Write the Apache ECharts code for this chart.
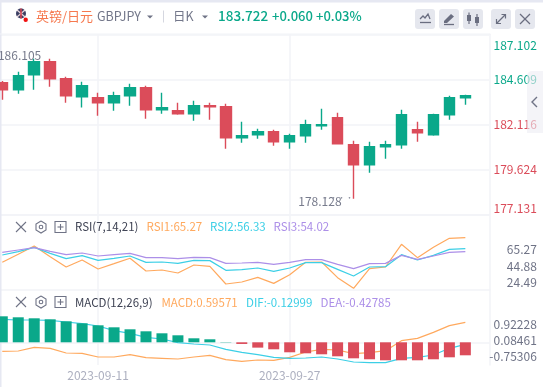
<!DOCTYPE html>
<html><head><meta charset="utf-8">
<style>html,body{margin:0;padding:0;background:#fff;overflow:hidden}#c{width:543px;height:387px}</style>
<script src="https://cdn.jsdelivr.net/npm/echarts@6/dist/echarts.min.js"></script>
</head><body><div id="c"></div>
<script>
const dates=['2023-09-01','2023-09-04','2023-09-05','2023-09-06','2023-09-07','2023-09-08','2023-09-11','2023-09-12','2023-09-13','2023-09-14','2023-09-15','2023-09-18','2023-09-19','2023-09-20','2023-09-21','2023-09-22','2023-09-25','2023-09-26','2023-09-27','2023-09-28','2023-09-29','2023-10-02','2023-10-03','2023-10-04','2023-10-05','2023-10-06','2023-10-09','2023-10-10','2023-10-11','2023-10-12',''];
// open, close, low, high
const candles=[
[184.416,184.028,183.474,184.51],
[184.028,184.803,183.806,185.025],
[184.859,185.579,184.028,185.745],
[185.579,184.637,184.194,185.745],
[184.637,183.695,183.308,184.748],
[183.64,184.25,183.047,184.471],
[183.585,183.308,182.587,183.862],
[183.308,183.695,182.864,183.917],
[183.695,184.139,183.141,184.36],
[184.139,182.92,182.421,184.25],
[182.92,183.03,182.698,183.862],
[182.864,182.698,182.643,183.308],
[182.698,183.141,182.31,183.418],
[183.141,183.086,182.366,183.308],
[183.086,181.369,180.759,183.252],
[181.369,181.479,181.091,182.255],
[181.535,181.701,181.313,181.867],
[181.701,181.147,180.925,181.812],
[181.147,181.479,180.759,181.59],
[181.479,182.089,181.091,182.366],
[182.033,182.089,181.812,182.975],
[182.477,181.036,181.036,182.753],
[180.981,179.873,177.99,181.202],
[179.873,180.87,179.43,181.147],
[180.87,180.981,180.205,181.202],
[180.981,182.643,180.759,182.92],
[181.812,181.646,181.147,182.255],
[181.535,182.643,181.479,182.698],
[182.643,183.585,182.366,183.695],
[183.585,183.695,183.197,183.751]];
const rsi1=[49.48,59.48,69.9,56.56,43.64,52.4,41.14,47.8,54.5,38.65,39.9,36.15,46.15,44.48,22.4,24.9,30.7,23.2,34.06,49.48,49.9,30.3,16.98,41.56,43.64,72,55.3,68.2,79.5,80.3];
const rsi2=[58.65,62.8,68.2,60.7,54.06,57.8,52,54.5,57.4,49.48,49.9,48.2,52,51.6,39.5,40.3,42.4,38.2,42.4,49.06,49.06,40.7,32.4,43.64,44.06,59.06,52.4,58.2,65.7,66.56];
const rsi3=[62,64.9,67.8,63.2,59.06,61.15,57.4,59.06,60.7,55.3,55.3,54.06,55.7,55.3,48.2,48.65,49.48,47,49.48,52.8,52.8,47,41.56,47.8,48.2,58.2,53.2,57.4,62,62.8];
const macdBars=[1.34,1.289,1.237,1.185,1.082,.979,.876,.773,.67,.567,.464,.361,.206,.155,.017,-.086,-.275,-.361,-.515,-.567,-.618,-.722,-.825,-.876,-.928,-.928,-.928,-.876,-.773,-.67];
const macdCyan=[1.184,1.15,1.15,1.133,1.047,.961,.84,.6,.463,.256,.17,-.018,-.087,-.139,-.362,-.517,-.637,-.774,-.826,-.809,-.757,-.86,-1.015,-1.049,-1.049,-.826,-.774,-.654,-.31,-.104];
const macdOrange=[-.465,-.448,-.259,-.31,-.551,-.568,-.757,-.757,-.637,-.792,-.826,-.86,-.757,-.671,-.895,-.981,-.912,-.929,-.774,-.499,-.362,-.396,-.585,-.534,-.431,.085,.205,.514,.858,1.03];
const priceTicks=[177.131,179.624,182.116,184.609,187.102];
const rsiTicks=[24.49,44.88,65.27];
const macdTicks=[-0.75306,0.08461,0.92228];
const lastPrice=183.722, highLabel='186.105', lowLabel='178.128';

const FONT='"Noto Sans CJK SC","Noto Sans",sans-serif';
const UP='#0aa88a',DOWN='#db4c5a',GRID='#f2f3f7',ORANGE='#ffa95e',CYAN='#3ccfe6',PURPLE='#ac8fe8';
const GL=-5.7,GW=495;
const hl=(i)=>i===6||i===18;
function xAxis(idx,showLabel){return{type:'category',gridIndex:idx,data:dates,boundaryGap:true,
  axisLine:{show:true,lineStyle:{color:GRID,width:1.5}},axisTick:{show:false},
  axisLabel:{show:showLabel,interval:(i)=>hl(i),color:'#adb0c0',fontSize:12,fontFamily:FONT,margin:4,hideOverlap:false},
  splitLine:{show:true,alignWithLabel:true,interval:(i)=>hl(i),lineStyle:{color:GRID,width:1.5}}};}
function yAxis(idx,min,max,ticks,dec,color,extra){return Object.assign({type:'value',gridIndex:idx,position:'right',min,max,scale:true,
  axisLine:{show:true,onZero:false,lineStyle:{color:GRID,width:1.5}},axisTick:{show:false,customValues:ticks},
  axisLabel:Object.assign({customValues:ticks,align:'right',margin:47.5,color,fontSize:12,fontFamily:FONT,formatter:(v)=>v.toFixed(dec)},(extra||{}).label||{}),
  splitLine:(extra||{}).split||{show:false}});}
function text(x,y,s,fill,size,weight,align){return{type:'text',x,y,silent:true,z:50,style:{text:s,fill,font:(weight||'normal')+' '+size+'px '+FONT,align:align||'left',verticalAlign:'middle'}};}
function button(x){return{type:'rect',silent:true,z:50,shape:{x,y:9,width:20,height:20,r:3},style:{fill:'#e5e7ee'}};}
function line(points,color,w){return{type:'polyline',silent:true,z:51,shape:{points},style:{stroke:color,lineWidth:w||1.4,fill:null}};}
function panelIcons(y){const c='#6f7386';return [
  line([[16,y-5],[26,y+5]],c,1.1),line([[26,y-5],[16,y+5]],c,1.1),
  line([[41,y-6],[46,y-3],[46,y+3],[41,y+6],[36,y+3],[36,y-3],[41,y-6]],c,1.1),
  {type:'circle',silent:true,z:51,shape:{cx:41,cy:y,r:1.8},style:{stroke:c,fill:null,lineWidth:1.1}},
  {type:'rect',silent:true,z:51,shape:{x:55,y:y-5.5,width:11,height:11},style:{stroke:c,fill:null,lineWidth:1.1}},
  line([[60.5,y-3],[60.5,y+3]],c,1.1),line([[57.5,y],[63.5,y]],c,1.1)];}
const graphics=[
  {type:'rect',silent:true,z:1,shape:{x:0,y:0,width:1.5,height:387},style:{fill:'#e6e8f2'}},
  {type:'rect',silent:true,z:1,shape:{x:0,y:0,width:543,height:2.5},style:{fill:'#e6e8f2'}},
  {type:'rect',silent:true,z:1,shape:{x:0,y:33.5,width:490,height:1},style:{fill:GRID}},
  {type:'circle',silent:true,z:50,shape:{cx:21,cy:13.5,r:5},style:{fill:'#3b3f63'}},
  line([[17,10],[25,17]],'#e8d6dc',1.3),line([[25,10],[17,17]],'#e8d6dc',1.3),
  line([[21,8.5],[21,18.5]],'#d8404e',1.5),
  {type:'circle',silent:true,z:52,shape:{cx:25.7,cy:19.7,r:2.2},style:{fill:'#f01010'}},
  text(36,16.5,'英镑/日元','#f6794f',13),
  text(97,16,'GBPJPY','#73778a',12.5),
  {type:'polygon',silent:true,z:50,shape:{points:[[147,15.5],[153,15.5],[150,18.5]]},style:{fill:'#6f7386'}},
  {type:'rect',silent:true,z:50,shape:{x:163,y:10.5,width:1,height:12},style:{fill:'#d5d7e0'}},
  text(173,16,'日K','#73778a',12.5),
  {type:'polygon',silent:true,z:50,shape:{points:[[202,15.5],[208,15.5],[205,18.5]]},style:{fill:'#6f7386'}},
  text(218,16,String(lastPrice),UP,13.5,'500'),
  text(272,16,'+0.060',UP,13,'500'),
  text(316,16,'+0.03%',UP,13,'500'),
  button(415),button(439),button(463),button(491),button(515),
  line([[420,19],[423,16],[425,18],[428,14],[430,19]],'#6a6e80',1.3),line([[420,22.5],[431,22.5]],'#6a6e80',1.3),
  {type:'polygon',silent:true,z:51,shape:{points:[[444,21],[451,14],[454,16.5],[447,23],[444,23]]},style:{fill:'#6a6e80'}},
  line([[444,24.5],[454,24.5]],'#6a6e80',1.3),
  line([[469,12.5],[469,24]],'#6a6e80',1.2),line([[477,14],[477,26]],'#6a6e80',1.2),
  {type:'rect',silent:true,z:51,shape:{x:467,y:15,width:4,height:6},style:{fill:'#6a6e80'}},
  {type:'rect',silent:true,z:51,shape:{x:475,y:17,width:4,height:6},style:{fill:'#6a6e80'}},
  line([[497,23],[505,15]],'#6a6e80',1.2),line([[501.5,14.5],[505.5,14.5],[505.5,18.5]],'#6a6e80',1.2),line([[496.5,19],[496.5,23.5],[501,23.5]],'#6a6e80',1.2),
  line([[520,14],[530,24]],'#6a6e80',1.2),line([[530,14],[520,24]],'#6a6e80',1.2),
  {type:'rect',silent:true,z:60,shape:{x:527,y:71,width:16,height:62,r:[5,0,0,0]},style:{fill:'#ecedf3',opacity:.6}},
  Object.assign(line([[537,97],[532,102],[537,107]],'#6f7386',1.4),{z:61}),
  ...panelIcons(227),
  text(75,227,'RSI(7,14,21)','#3f4354',11.5),
  text(146.5,227,'RSI1:65.27',ORANGE,11.5),
  text(210,227,'RSI2:56.33',CYAN,11.5),
  text(273.5,227,'RSI3:54.02',PURPLE,11.5),
  ...panelIcons(302),
  text(75,302.5,'MACD(12,26,9)','#3f4354',11.5),
  text(161.5,302.5,'MACD:0.59571',ORANGE,11.5),
  text(246,302.5,'DIF:-0.12999',CYAN,11.5),
  text(320.5,302.5,'DEA:-0.42785',PURPLE,11.5)
];
const lineSeries=(name,x,y,data,color,w)=>({name,type:'line',xAxisIndex:x,yAxisIndex:y,data,symbol:'none',lineStyle:{color,width:w||1.2},z:2,animation:false});
const markLabel={show:true,color:'#777b8c',fontSize:12,fontFamily:FONT};
const option={animation:false,backgroundColor:'#fff',
 grid:[{left:GL,width:GW,top:34.3,height:180,outerBoundsMode:'none'},{left:GL,width:GW,top:215,height:75,outerBoundsMode:'none'},{left:GL,width:GW,top:290,height:75,outerBoundsMode:'none'}],
 xAxis:[xAxis(0,false),xAxis(1,false),xAxis(2,true)],
 yAxis:[
  yAxis(0,177.131,187.102,priceTicks,3,(v)=>v>lastPrice?UP:DOWN,{split:{show:true,lineStyle:{color:GRID,width:1.5}},label:{padding:[5,0,0,0],verticalAlignMinLabel:'bottom',verticalAlignMaxLabel:'top'}}),
  yAxis(1,14.9,108.6,rsiTicks,2,'#6f7386'),
  yAxis(2,-1.17,2.696,macdTicks,5,'#6f7386')],
 graphic:graphics,
 series:[
  {name:'K',type:'candlestick',xAxisIndex:0,yAxisIndex:0,data:candles,barWidth:11,clip:false,z:3,
   itemStyle:{color:UP,color0:DOWN,borderColor:UP,borderColor0:DOWN,borderWidth:1.4},
   markPoint:{symbol:'circle',symbolSize:0,silent:true,animation:false,data:[
     {coord:[2,185.745],label:Object.assign({},markLabel,{formatter:highLabel,position:'left',offset:[12,-3]})},
     {coord:[22,177.99],label:Object.assign({},markLabel,{formatter:lowLabel,position:'left',offset:[-7,3]})},
     {coord:[22,177.99],label:Object.assign({},markLabel,{formatter:'····',position:'left',offset:[5,-1],fontSize:8,color:'#8a8d9c'})}
   ]}},
  lineSeries('RSI1',1,1,rsi1,ORANGE),lineSeries('RSI2',1,1,rsi2,CYAN),lineSeries('RSI3',1,1,rsi3,PURPLE),
  lineSeries('MACD orange',2,2,macdOrange,ORANGE),lineSeries('DIF',2,2,macdCyan,CYAN),
  {name:'MACD',type:'bar',xAxisIndex:2,yAxisIndex:2,barWidth:11,z:4,data:macdBars.map(v=>({value:v,itemStyle:{color:v>=0?UP:DOWN}}))}
 ]};
echarts.init(document.getElementById('c'),null,{renderer:'canvas'}).setOption(option);
</script></body></html>
